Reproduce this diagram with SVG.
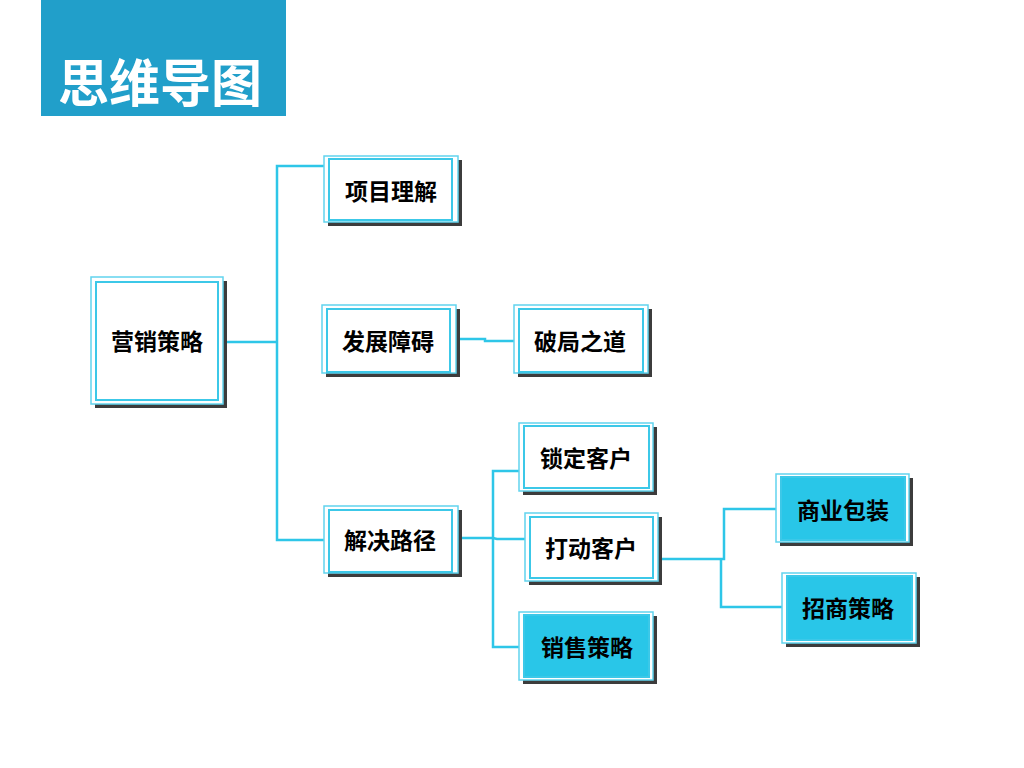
<svg xmlns="http://www.w3.org/2000/svg" width="1024" height="768" viewBox="0 0 1024 768">
<style>
.sh{fill:#3c3c3c}
.out{fill:#ffffff;stroke:#62d4ee;stroke-width:1.5}
.in{fill:#ffffff;stroke:#3cc8e8;stroke-width:2}
.in.blue{fill:#29c6e8}
.lbl{font-family:"Noto Sans CJK SC","Liberation Sans",sans-serif;font-weight:bold;font-size:23px;fill:#000;text-anchor:middle}
.ln{fill:none;stroke:#2ec6e8;stroke-width:2.5}
</style>
<rect width="1024" height="768" fill="#ffffff"/>
<g id="title">
<rect x="41" y="0" width="245" height="116" fill="#219fca"/>
<text x="160" y="102" font-family="'Noto Sans CJK SC','Liberation Sans',sans-serif" font-weight="bold" font-size="51" fill="#ffffff" text-anchor="middle">思维导图</text>
</g>
<g id="connectors">
<polyline class="ln" points="223,342 277,342"/>
<polyline class="ln" points="324,166 277,166 277,540 324,540"/>
<polyline class="ln" points="456,339 485,339 485,341 514,341"/>
<polyline class="ln" points="462,538 493,538 497,539 528,539"/>
<polyline class="ln" points="528,471 493,471 493,647 519,647"/>
<polyline class="ln" points="655,559 724,559 724,509 782,509"/>
<polyline class="ln" points="721,559 721,607 787,607"/>
</g>
<g id="n-main">
<rect class="sh" x="95" y="281" width="132" height="127"/>
<rect class="out" x="91" y="277" width="132" height="127"/>
<rect class="in" x="96" y="282" width="122" height="118"/>
<text class="lbl" x="157" y="350">营销策略</text>
</g>
<g id="n-xmlj">
<rect class="sh" x="328" y="160" width="134" height="66"/>
<rect class="out" x="324" y="156" width="134" height="66"/>
<rect class="in" x="329" y="159" width="123" height="61"/>
<text class="lbl" x="391" y="200">项目理解</text>
</g>
<g id="n-fzza">
<rect class="sh" x="326" y="309" width="134" height="68"/>
<rect class="out" x="322" y="305" width="134" height="68"/>
<rect class="in" x="327" y="309" width="123" height="63"/>
<text class="lbl" x="388" y="350">发展障碍</text>
</g>
<g id="n-pjzd">
<rect class="sh" x="518" y="309" width="134" height="68"/>
<rect class="out" x="514" y="305" width="134" height="68"/>
<rect class="in" x="519" y="309" width="124" height="63"/>
<text class="lbl" x="580" y="350">破局之道</text>
</g>
<g id="n-jjlj">
<rect class="sh" x="328" y="510" width="134" height="67"/>
<rect class="out" x="324" y="506" width="134" height="67"/>
<rect class="in" x="329" y="510" width="123" height="62"/>
<text class="lbl" x="390" y="549">解决路径</text>
</g>
<g id="n-sdkh">
<rect class="sh" x="523" y="427" width="134" height="68"/>
<rect class="out" x="519" y="423" width="134" height="68"/>
<rect class="in" x="524" y="426" width="125" height="62"/>
<text class="lbl" x="586" y="467">锁定客户</text>
</g>
<g id="n-ddkh">
<rect class="sh" x="529" y="517" width="133" height="68"/>
<rect class="out" x="525" y="513" width="133" height="68"/>
<rect class="in" x="530" y="517" width="123" height="61"/>
<text class="lbl" x="591" y="557">打动客户</text>
</g>
<g id="n-xscl">
<rect class="sh" x="523" y="616" width="134" height="68"/>
<rect class="out" x="519" y="612" width="134" height="68"/>
<rect class="in blue" x="524" y="615" width="125" height="62"/>
<text class="lbl" x="587" y="656">销售策略</text>
</g>
<g id="n-sybz">
<rect class="sh" x="780" y="478" width="133" height="68"/>
<rect class="out" x="776" y="474" width="133" height="68"/>
<rect class="in blue" x="781" y="477" width="124" height="63"/>
<text class="lbl" x="843" y="519">商业包装</text>
</g>
<g id="n-zscl">
<rect class="sh" x="786" y="577" width="134" height="70"/>
<rect class="out" x="782" y="573" width="134" height="70"/>
<rect class="in blue" x="787" y="576" width="125" height="64"/>
<text class="lbl" x="848" y="617">招商策略</text>
</g>
</svg>
